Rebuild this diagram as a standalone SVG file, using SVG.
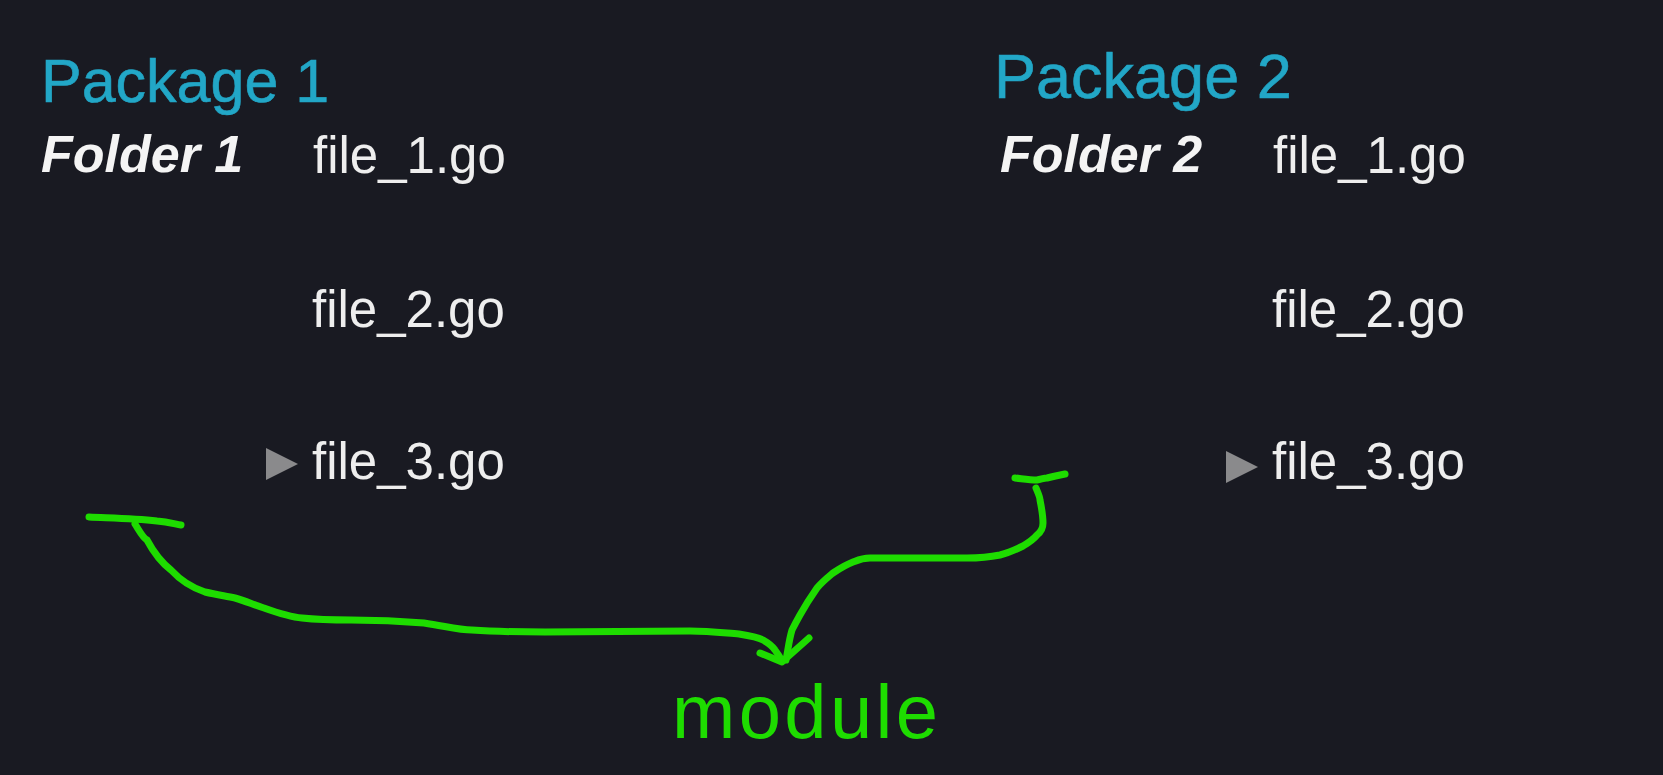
<svg xmlns="http://www.w3.org/2000/svg" width="1663" height="775" viewBox="0 0 1663 775">
<style>
.pkg{font-family:"Liberation Sans",Arial,sans-serif;fill:#22a7c7;stroke:#22a7c7;stroke-width:0.6;}
.folder{font-family:"Liberation Sans",Arial,sans-serif;font-weight:bold;font-style:italic;font-size:52px;fill:#f4f4f4;}
.file{font-family:"Liberation Sans",Arial,sans-serif;font-size:51px;fill:#eeeeee;}
.tri{fill:#8a8a8c;}
.ink{fill:none;stroke:#1edc00;stroke-width:7;stroke-linecap:round;stroke-linejoin:round;}
.hand{font-family:"Liberation Sans",Arial,sans-serif;font-size:76px;fill:#1edc00;}
</style>
<rect width="1663" height="775" fill="#191a22"/>
<g id="package1">
<text class="pkg" x="41" y="102" font-size="61">Package 1</text>
<text class="folder" x="41" y="172">Folder 1</text>
</g>
<g id="p1-file1"><text class="file" x="313" y="173">file_1.go</text></g>
<g id="p1-file2"><text class="file" x="312" y="327">file_2.go</text></g>
<g id="p1-file3">
<polygon class="tri" points="266,448 298,464 266,480"/>
<text class="file" x="312" y="479">file_3.go</text>
</g>
<g id="package2">
<text class="pkg" x="994" y="98" font-size="63">Package 2</text>
<text class="folder" x="1000" y="172">Folder 2</text>
</g>
<g id="p2-file1"><text class="file" x="1273" y="173">file_1.go</text></g>
<g id="p2-file2"><text class="file" x="1272" y="327">file_2.go</text></g>
<g id="p2-file3">
<polygon class="tri" points="1226,451 1258,467 1226,483"/>
<text class="file" x="1272" y="479">file_3.go</text>
</g>
<g id="module">
<text class="hand" x="672" y="738" textLength="266" lengthAdjust="spacing">module</text>
</g>
<g id="connectors">
<path class="ink" d="M89,517 C110,518 133,518 157,521 C168,522 175,524 181,525"/>
<path class="ink" d="M135,524 C140,532 143,538 147,540 C155,555 162,563 171,570 C182,582 193,588 205,592 C218,595 226,596 235,598 C246,601 254,605 264,608 C278,613 290,617 302,618 C320,620 335,620 351,620 C380,620 400,621 424,623 C445,626 458,630 472,630 C500,632 520,632 545,632 C600,632 650,631 690,631 C710,631 725,633 739,634 C752,636 758,637 763,640 C770,644 773,647 775,650 C778,654 780,657 782,661"/>
<path class="ink" d="M760,653 L782,662 L809,638"/>
<path class="ink" d="M1015,478 C1024,479 1030,480 1037,480 C1042,479 1044,478 1047,478 C1055,476 1060,475 1065,474"/>
<path class="ink" d="M1036,488 C1038,493 1040,497 1040,500 C1042,510 1043,517 1043,523 C1043,528 1041,532 1037,535 C1033,540 1028,543 1023,546 C1015,550 1008,553 1000,555 C990,557 980,558 967,558 C950,558 940,558 927,558 C900,558 885,558 870,558 C862,558 858,560 853,562 C845,565 839,569 833,573 C827,578 822,582 817,588 C810,598 805,606 800,615 C796,622 794,626 792,630 C789,640 788,650 786,660"/>
</g>
</svg>
